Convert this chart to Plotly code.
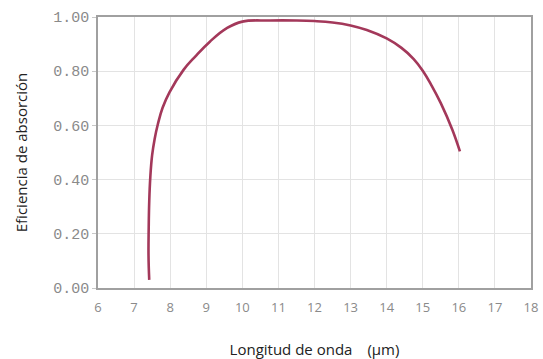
import plotly.graph_objects as go

wavelength = [7.42, 7.40, 7.405, 7.42, 7.45, 7.50, 7.57, 7.66, 7.79, 7.98, 8.37, 8.70, 9.10,
              9.56, 10.0, 10.77, 11.5, 12.0, 12.5, 13.0, 13.45, 14.0, 14.41, 14.75,
              15.0, 15.25, 15.5, 15.82, 16.03]
efficiency = [0.03, 0.12, 0.22, 0.32, 0.41, 0.49, 0.55, 0.605, 0.665, 0.722, 0.805, 0.855, 0.909,
              0.958, 0.983, 0.987, 0.987, 0.985, 0.980, 0.969, 0.952, 0.921, 0.886, 0.845,
              0.802, 0.746, 0.682, 0.584, 0.504]

x_ticks = list(range(6, 19))
y_ticks = [0.0, 0.2, 0.4, 0.6, 0.8, 1.0]
y_tick_text = ["0.00", "0.20", "0.40", "0.60", "0.80", "1.00"]

fig = go.Figure()
fig.add_trace(go.Scatter(
    x=wavelength, y=efficiency, mode="lines",
    line=dict(color="#a3385a", width=2.6, shape="spline", smoothing=1.2),
    hoverinfo="skip", showlegend=False,
))

fig.update_layout(
    width=543, height=359,
    margin=dict(l=98, r=12, t=17, b=71),
    paper_bgcolor="white", plot_bgcolor="white",
    font=dict(family="Open Sans", color="#222"),
    xaxis=dict(
        range=[6, 18], tickvals=x_ticks, ticktext=[str(t) for t in x_ticks],
        showgrid=True, gridcolor="#e3e3e3", gridwidth=1,
        showline=True, linecolor="#a0a0a0", linewidth=1.5, mirror=True,
        ticks="", zeroline=False, automargin=False, ticklabelstandoff=7,
        tickfont=dict(family="Open Sans", size=13, color="#8a8a8a"),
        title=dict(text="Longitud de onda\u3000(μm)", font=dict(family="Open Sans", size=15, color="#222"), standoff=36),
    ),
    yaxis=dict(
        range=[0, 1], tickvals=y_ticks, ticktext=y_tick_text,
        showgrid=True, gridcolor="#e3e3e3", gridwidth=1,
        showline=True, linecolor="#a0a0a0", linewidth=1.5, mirror=True,
        ticks="outside", ticklen=4, tickcolor="#c8c8c8",
        zeroline=False, automargin=False,
        tickfont=dict(family="Liberation Mono", size=15, color="#8a8a8a"),
        title=dict(text="Eficiencia de absorción", font=dict(family="Open Sans", size=15, color="#222"), standoff=22),
    ),
)

fig.write_html("out.html")
